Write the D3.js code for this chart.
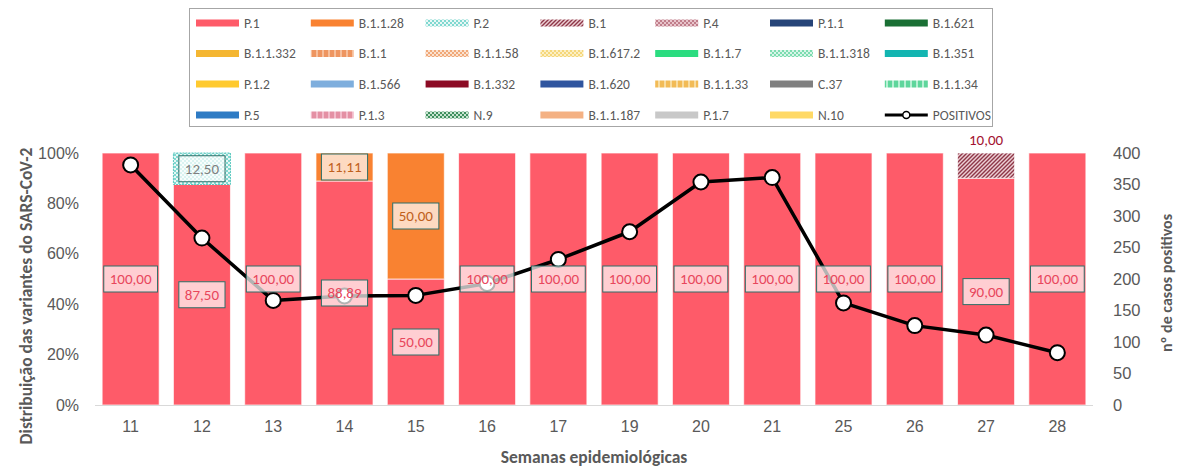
<!DOCTYPE html>
<html>
<head>
<meta charset="utf-8">
<script src="https://cdn.jsdelivr.net/npm/d3@7"></script>
<style>
  html, body { margin: 0; padding: 0; background: #fff; }
  svg { display: block; font-family: Carlito, Calibri, Lato, "Open Sans", sans-serif; }
</style>
</head>
<body>
<svg id="chart" width="1189" height="468"></svg>
<script>
// Epidemiological weeks
const weeks = ["11", "12", "13", "14", "15", "16", "17", "19", "20", "21", "25", "26", "27", "28"];

// Variant share per week (%)
const p1     = [100, 87.5, 100, 88.89, 50, 100, 100, 100, 100, 100, 100, 100, 90, 100];
const b1128  = [0, 0, 0, 11.11, 50, 0, 0, 0, 0, 0, 0, 0, 0, 0];
const p2     = [0, 12.5, 0, 0, 0, 0, 0, 0, 0, 0, 0, 0, 0, 0];
const b1     = [0, 0, 0, 0, 0, 0, 0, 0, 0, 0, 0, 0, 10, 0];

// Positive cases per week
const positivos = [381, 265, 166, 173, 174, 193, 231, 275, 354, 361, 162, 126, 111, 83];

// Axis ticks
const pctTicks = [0, 0.2, 0.4, 0.6, 0.8, 1];
const caseTicks = [0, 50, 100, 150, 200, 250, 300, 350, 400];

// Legend entries (row-major, 7 per row)
const legendNames = [
  "P.1", "B.1.1.28", "P.2", "B.1", "P.4", "P.1.1", "B.1.621",
  "B.1.1.332", "B.1.1", "B.1.1.58", "B.1.617.2", "B.1.1.7", "B.1.1.318", "B.1.351",
  "P.1.2", "B.1.566", "B.1.332", "B.1.620", "B.1.1.33", "C.37", "B.1.1.34",
  "P.5", "P.1.3", "N.9", "B.1.1.187", "P.1.7", "N.10", "POSITIVOS"
];
const legendColors = [
  "#fe5b69", "#f98231", "url(#pat-p2)", "url(#pat-b1)", "url(#pat-p4)", "#264478", "#1a6f34",
  "#f4b632", "url(#pat-b11)", "url(#pat-b1158)", "url(#pat-b16172)", "#2bdc80", "url(#pat-b11318)", "#13b5b1",
  "#ffca2f", "#7eaedd", "#8c0b24", "#2f559f", "url(#pat-b1133)", "#808080", "url(#pat-b1134)",
  "#2e7bc4", "url(#pat-p13)", "url(#pat-n9)", "#f4b183", "#c8c8c8", "#ffd966", null
];

const svg = d3.select("#chart");
const defs = svg.append("defs");

// Small pixel patterns used for hatched variants
function checker(id, fg, bg, size) {
  const p = defs.append("pattern").attr("id", id).attr("patternUnits", "userSpaceOnUse")
    .attr("width", size * 2).attr("height", size * 2);
  p.append("rect").attr("width", size * 2).attr("height", size * 2).attr("fill", bg);
  p.append("rect").attr("width", size).attr("height", size).attr("fill", fg);
  p.append("rect").attr("x", size).attr("y", size).attr("width", size).attr("height", size).attr("fill", fg);
}
function diag(id, fg, bg) {
  const p = defs.append("pattern").attr("id", id).attr("patternUnits", "userSpaceOnUse")
    .attr("width", 4).attr("height", 4);
  p.append("rect").attr("width", 4).attr("height", 4).attr("fill", bg);
  p.append("path").attr("d", "M0,4 L4,0 M-1,1 L1,-1 M3,5 L5,3").attr("stroke", fg).attr("stroke-width", 1.4);
}
function dashes(id, fg, bg) {
  const p = defs.append("pattern").attr("id", id).attr("patternUnits", "userSpaceOnUse")
    .attr("width", 6).attr("height", 6);
  p.append("rect").attr("width", 6).attr("height", 6).attr("fill", bg);
  p.append("rect").attr("width", 4).attr("height", 6).attr("fill", fg);
}
checker("pat-p2", "#7fd8d0", "#e8f7f5", 2);
diag("pat-b1", "#8e3748", "#eccfd4");
checker("pat-p4", "#c07d8a", "#e8c4cb", 2);
dashes("pat-b11", "#ee9560", "#f6bf9c");
checker("pat-b1158", "#f0a878", "#fbe2d0", 2);
checker("pat-b16172", "#f5d77a", "#fcefc4", 2);
checker("pat-b11318", "#7cdcb0", "#d8f5e8", 2);
dashes("pat-b1133", "#f2bb56", "#f8dca0");
dashes("pat-b1134", "#5fd69c", "#b8f0d4");
dashes("pat-p13", "#e490a4", "#f2bccb");
checker("pat-n9", "#3f8f5e", "#c8e4d0", 2);

// Scales
const x = d3.scaleBand().domain(weeks).range([95, 1093]).paddingInner(0.2).paddingOuter(0.1);
const y = d3.scaleLinear().domain([0, 1]).range([405, 153]);
const y2 = d3.scaleLinear().domain([0, 400]).range([405, 153]);

// Stacked bars
const keys = ["P.1", "B.1.1.28", "P.2", "B.1"];
const series = { "P.1": p1, "B.1.1.28": b1128, "P.2": p2, "B.1": b1 };
const fills = { "P.1": "#fe5b69", "B.1.1.28": "#f98231", "P.2": "url(#pat-p2)", "B.1": "url(#pat-b1)" };
const rows = weeks.map((w, i) => {
  const r = { week: w };
  keys.forEach(k => r[k] = series[k][i] / 100);
  return r;
});
const stacked = d3.stack().keys(keys)(rows);

const barG = svg.append("g");
stacked.forEach(s => {
  barG.selectAll(null).data(s.filter(d => d[1] - d[0] > 0)).join("rect")
    .attr("x", d => x(d.data.week))
    .attr("width", x.bandwidth())
    .attr("y", d => y(d[1]))
    .attr("height", d => y(d[0]) - y(d[1]))
    .attr("fill", fills[s.key])
    .attr("stroke", s.key === "P.2" ? "#5cc9c0" : "rgba(255,255,255,0.7)")
    .attr("stroke-width", 1)
    .attr("stroke-dasharray", s.key === "P.2" ? "2,1" : null);
});

// Bottom axis line
svg.append("line").attr("x1", 95).attr("x2", 1093).attr("y1", 405.5).attr("y2", 405.5)
  .attr("stroke", "#d9d9d9").attr("stroke-width", 1.2);

// Left axis
const leftAxis = svg.append("g").attr("transform", "translate(95,0)")
  .call(d3.axisLeft(y).tickValues(pctTicks).tickFormat(d3.format(".0%")).tickSize(0).tickPadding(16));
leftAxis.select(".domain").remove();
leftAxis.selectAll("text").attr("fill", "#595959").attr("font-size", 16).style("font-family", "inherit");

// Right axis
const rightAxis = svg.append("g").attr("transform", "translate(1093,0)")
  .call(d3.axisRight(y2).tickValues(caseTicks).tickSize(0).tickPadding(20));
rightAxis.select(".domain").remove();
rightAxis.selectAll("text").attr("fill", "#595959").attr("font-size", 16.5).style("font-family", "inherit");

// Bottom axis labels
const bottomAxis = svg.append("g").attr("transform", "translate(0,405)")
  .call(d3.axisBottom(x).tickSize(0).tickPadding(16));
bottomAxis.select(".domain").remove();
bottomAxis.selectAll("text").attr("fill", "#595959").attr("font-size", 16).style("font-family", "inherit");

// Positive cases line
const cx = (d, i) => x(weeks[i]) + x.bandwidth() / 2;
svg.append("path")
  .datum(positivos)
  .attr("fill", "none").attr("stroke", "#000").attr("stroke-width", 3.5).attr("stroke-linejoin", "round")
  .attr("d", d3.line().x(cx).y(d => y2(d)));
svg.append("g").selectAll("circle").data(positivos).join("circle")
  .attr("cx", cx).attr("cy", d => y2(d)).attr("r", 7.5)
  .attr("fill", "#fff").attr("stroke", "#000").attr("stroke-width", 2);

// Data labels
const fmt = v => d3.format(".2f")(v).replace(".", ",");
const labelStyle = {
  "P.1": { text: "#e8465c", box: true },
  "B.1.1.28": { text: "#c0601c", box: true },
  "P.2": { text: "#7f7f7f", box: true },
  "B.1": { text: "#a3122f", box: false }
};
const labG = svg.append("g").attr("font-size", 15);
stacked.forEach(s => {
  const st = labelStyle[s.key];
  s.filter(d => d[1] - d[0] > 0).forEach(d => {
    const v = d[1] - d[0];
    const cxp = x(d.data.week) + x.bandwidth() / 2;
    if (st.box) {
      const cy = y((d[0] + d[1]) / 2);
      const t = labG.append("text").attr("x", cxp).attr("y", cy).attr("dy", "0.35em")
        .attr("text-anchor", "middle").attr("fill", st.text).text(fmt(v * 100));
      const bw = t.node().getComputedTextLength() + 12;
      labG.insert("rect", () => t.node())
        .attr("x", cxp - bw / 2).attr("y", cy - 13).attr("width", bw).attr("height", 26)
        .attr("fill", "#fff").attr("fill-opacity", 0.7)
        .attr("stroke", "#2f6f68").attr("stroke-width", 1);
    } else {
      labG.append("text").attr("x", cxp).attr("y", y(d[1]) - 8)
        .attr("text-anchor", "middle").attr("fill", st.text).text(fmt(v * 100));
    }
  });
});

// Axis titles
svg.append("text").attr("transform", "translate(26,296) rotate(-90)")
  .attr("text-anchor", "middle").attr("dy", "0.35em")
  .attr("font-size", 17.5).attr("font-weight", "bold").attr("fill", "#595959")
  .text("Distribuição das variantes do SARS-CoV-2");
svg.append("text").attr("transform", "translate(1166,283) rotate(-90)")
  .attr("text-anchor", "middle").attr("dy", "0.35em")
  .attr("font-size", 16).attr("font-weight", "bold").attr("fill", "#595959")
  .text("nº de casos positivos");
svg.append("text").attr("x", 594).attr("y", 457).attr("dy", "0.35em")
  .attr("text-anchor", "middle")
  .attr("font-size", 17.5).attr("font-weight", "bold").attr("fill", "#595959")
  .text("Semanas epidemiológicas");

// Legend
const lg = svg.append("g");
lg.append("rect").attr("x", 189.5).attr("y", 8.5).attr("width", 803).attr("height", 118)
  .attr("fill", "#fff").attr("stroke", "#a6a6a6").attr("stroke-width", 1);
const colX = d3.range(7).map(i => 196 + i * 114.8);
const rowY = [23, 53.5, 84, 115];
legendNames.forEach((name, i) => {
  const cxl = colX[i % 7], cyl = rowY[Math.floor(i / 7)];
  const g = lg.append("g");
  if (legendColors[i]) {
    g.append("rect").attr("x", cxl).attr("y", cyl - 3.5).attr("width", 43).attr("height", 7)
      .attr("fill", legendColors[i]);
  } else {
    g.append("line").attr("x1", cxl).attr("x2", cxl + 43).attr("y1", cyl).attr("y2", cyl)
      .attr("stroke", "#000").attr("stroke-width", 3);
    g.append("circle").attr("cx", cxl + 21.5).attr("cy", cyl).attr("r", 3.5)
      .attr("fill", "#fff").attr("stroke", "#000").attr("stroke-width", 1.5);
  }
  g.append("text").attr("x", cxl + 48).attr("y", cyl).attr("dy", "0.35em")
    .attr("font-size", 13.5).attr("fill", "#595959").text(name);
});
</script>
</body>
</html>
